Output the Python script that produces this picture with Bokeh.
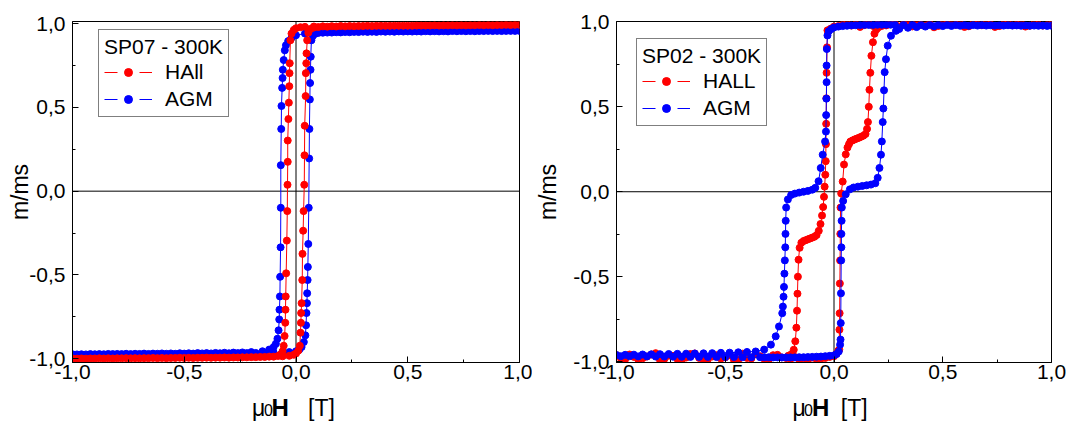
import numpy as np
from bokeh.plotting import figure
from bokeh.models import (Range1d, FixedTicker, CustomJSTickFormatter, Span, Label,
                          Legend, LegendItem, ColumnDataSource)
from bokeh.layouts import row, column
from bokeh.embed import file_html
from bokeh.resources import INLINE

FONT = "Liberation Sans"
RED = "#ff0000"
BLUE = "#0000ff"

# ---------------- tick values ----------------
major_ticks = [-1.0, -0.5, 0.0, 0.5, 1.0]
minor_ticks = [-0.75, -0.25, 0.25, 0.75]

# ---------------- SP07 - 300K : Hall (red) ----------------
hall07_dn_x = [1.00, 0.96, 0.92, 0.88, 0.84, 0.80, 0.76, 0.72, 0.68, 0.64, 0.60, 0.56, 0.52, 0.48, 0.44,
               0.40, 0.36, 0.32, 0.28, 0.24, 0.20, 0.16, 0.12, 0.08, 0.04, 0.02, 0.00, -0.010, -0.020,
               -0.025, -0.028, -0.029, -0.030, -0.032, -0.034, -0.037, -0.037, -0.038, -0.039, -0.041,
               -0.044, -0.046, -0.047, -0.048, -0.051, -0.055, -0.060, -0.070, -0.080,
               -0.12, -0.16, -0.20, -0.24, -0.28, -0.32, -0.36, -0.40, -0.44, -0.48, -0.52, -0.56, -0.60,
               -0.64, -0.68, -0.72, -0.76, -0.80, -0.84, -0.88, -0.92, -0.96, -1.00]
hall07_dn_y = [0.992, 0.991, 0.991, 0.990, 0.990, 0.990, 0.989, 0.989, 0.989, 0.988, 0.988, 0.988, 0.987,
               0.987, 0.987, 0.986, 0.986, 0.986, 0.985, 0.985, 0.985, 0.984, 0.983, 0.982, 0.980, 0.978,
               0.972, 0.962, 0.940,
               0.900, 0.763, 0.704, 0.626, 0.528, 0.430, 0.302, 0.175, 0.038, -0.119, -0.295, -0.490,
               -0.628, -0.707, -0.785, -0.864, -0.922, -0.955, -0.975, -0.983,
               -0.987, -0.989, -0.990, -0.991, -0.992, -0.992, -0.993, -0.993, -0.994, -0.994, -0.994,
               -0.995, -0.995, -0.995, -0.996, -0.996, -0.996, -0.997, -0.997, -0.997, -0.998, -0.998, -0.998]
hall07_up_x = [-0.98, -0.94, -0.90, -0.86, -0.82, -0.78, -0.74, -0.70, -0.66, -0.62, -0.58, -0.54, -0.50,
               -0.46, -0.42, -0.38, -0.34, -0.30, -0.26, -0.22, -0.18, -0.14, -0.10, -0.06,
               -0.03, -0.01, 0.00, 0.010,
               0.017, 0.020, 0.022, 0.023, 0.025, 0.028, 0.029, 0.032, 0.034, 0.037, 0.038, 0.039, 0.043,
               0.044, 0.046, 0.047, 0.050, 0.055, 0.065,
               0.08, 0.10, 0.14, 0.18, 0.22, 0.26, 0.30, 0.34, 0.38, 0.42, 0.46, 0.50, 0.54, 0.58, 0.62,
               0.66, 0.70, 0.74, 0.78, 0.82, 0.86, 0.90, 0.94, 0.98]
hall07_up_y = [-0.999, -0.999, -0.998, -0.998, -0.998, -0.997, -0.997, -0.997, -0.996, -0.996, -0.996,
               -0.995, -0.995, -0.995, -0.994, -0.994, -0.993, -0.993, -0.992, -0.991, -0.990, -0.989,
               -0.987, -0.985,
               -0.982, -0.976, -0.968, -0.952,
               -0.922, -0.844, -0.785, -0.727, -0.668, -0.530, -0.374, -0.236, -0.119, 0.038, 0.214, 0.390,
               0.567, 0.704, 0.763, 0.822, 0.900, 0.945, 0.968,
               0.976, 0.979, 0.981, 0.982, 0.983, 0.984, 0.985, 0.985, 0.986, 0.986, 0.987, 0.987, 0.988,
               0.988, 0.989, 0.989, 0.990, 0.990, 0.990, 0.991, 0.991, 0.991, 0.992, 0.992]

# ---------------- SP07 - 300K : AGM (blue) ----------------
agm07_dn_x = [1.00, 0.96, 0.92, 0.88, 0.84, 0.80, 0.76, 0.72, 0.68, 0.64, 0.60, 0.56, 0.52, 0.48, 0.44,
              0.40, 0.36, 0.32, 0.28, 0.24, 0.20, 0.16, 0.12, 0.08, 0.04,
              0.00, -0.020, -0.035, -0.045, -0.050,
              -0.055, -0.059, -0.060, -0.062, -0.065, -0.066, -0.068, -0.068, -0.069, -0.071, -0.072,
              -0.074, -0.075, -0.078, -0.083, -0.090, -0.10, -0.12, -0.15,
              -0.20, -0.24, -0.28, -0.32, -0.36, -0.40, -0.44, -0.48, -0.52, -0.56, -0.60, -0.64, -0.68,
              -0.72, -0.76, -0.80, -0.84, -0.88, -0.92, -0.96, -1.00]
agm07_dn_y = [0.956, 0.956, 0.955, 0.955, 0.955, 0.954, 0.954, 0.954, 0.953, 0.953, 0.953, 0.952, 0.952,
              0.952, 0.951, 0.951, 0.950, 0.950, 0.949, 0.948, 0.947, 0.946, 0.945, 0.943, 0.940,
              0.930, 0.915, 0.895, 0.870, 0.840,
              0.782, 0.724, 0.675, 0.616, 0.508, 0.371, 0.155, -0.099, -0.335, -0.511, -0.628, -0.707,
              -0.765, -0.830, -0.880, -0.910, -0.930, -0.945, -0.955,
              -0.960, -0.962, -0.963, -0.964, -0.965, -0.966, -0.966, -0.967, -0.967, -0.968, -0.968,
              -0.969, -0.969, -0.970, -0.970, -0.971, -0.971, -0.972, -0.972, -0.973, -0.973]
agm07_up_x = [-0.98, -0.94, -0.90, -0.86, -0.82, -0.78, -0.74, -0.70, -0.66, -0.62, -0.58, -0.54, -0.50,
              -0.46, -0.42, -0.38, -0.34, -0.30, -0.26, -0.22, -0.18, -0.14, -0.10, -0.06,
              -0.03, 0.00, 0.015, 0.025, 0.035, 0.042, 0.045,
              0.047, 0.049, 0.050, 0.052, 0.053, 0.055, 0.057, 0.059, 0.060, 0.062, 0.063, 0.065, 0.066,
              0.069, 0.075, 0.085,
              0.10, 0.14, 0.18, 0.22, 0.26, 0.30, 0.34, 0.38, 0.42, 0.46, 0.50, 0.54, 0.58, 0.62, 0.66,
              0.70, 0.74, 0.78, 0.82, 0.86, 0.90, 0.94, 0.98]
agm07_up_y = [-0.974, -0.974, -0.973, -0.973, -0.972, -0.972, -0.972, -0.971, -0.971, -0.970, -0.970,
              -0.970, -0.969, -0.969, -0.968, -0.968, -0.967, -0.967, -0.966, -0.966, -0.965, -0.964,
              -0.963, -0.962,
              -0.960, -0.955, -0.945, -0.930, -0.900, -0.860, -0.800,
              -0.727, -0.668, -0.609, -0.530, -0.452, -0.315, -0.099, 0.195, 0.371, 0.547, 0.645, 0.724,
              0.802, 0.900, 0.925, 0.938,
              0.944, 0.946, 0.948, 0.949, 0.950, 0.951, 0.951, 0.952, 0.952, 0.953, 0.953, 0.953, 0.954,
              0.954, 0.954, 0.955, 0.955, 0.955, 0.955, 0.956, 0.956, 0.956, 0.956]

# ---------------- SP02 - 300K : Hall (red) ----------------
hall02_dn_x = [1.00, 0.96, 0.92, 0.88, 0.84, 0.80, 0.76, 0.72, 0.68, 0.64, 0.60, 0.56, 0.52, 0.48, 0.44,
               0.40, 0.36, 0.32, 0.28, 0.24,
               0.20, 0.18, 0.16, 0.14, 0.12, 0.10, 0.08, 0.06, 0.04, 0.02, 0.00, -0.015,
               -0.030, -0.032, -0.034, -0.035, -0.036, -0.037, -0.038, -0.040, -0.043, -0.046, -0.050,
               -0.055, -0.062, -0.070, -0.080, -0.090, -0.100, -0.110, -0.120, -0.130, -0.140, -0.150,
               -0.158, -0.163, -0.166, -0.168, -0.170, -0.173, -0.178, -0.185, -0.195, -0.210,
               -0.24, -0.28, -0.32, -0.36, -0.40, -0.44, -0.48, -0.52, -0.56, -0.60, -0.64, -0.68, -0.72,
               -0.76, -0.80, -0.84, -0.88, -0.92, -0.96, -1.00]
hall02_dn_y = [0.985, 0.978, 0.990, 0.972, 0.984, 0.991, 0.975, 0.986, 0.980, 0.992, 0.970, 0.983, 0.988,
               0.976, 0.990, 0.982, 0.973, 0.987, 0.991, 0.979,
               0.984, 0.976, 0.989, 0.981, 0.970, 0.986, 0.978, 0.990, 0.983, 0.975, 0.972, 0.960,
               0.950, 0.850, 0.700, 0.550, 0.400, 0.280, 0.180, 0.100, 0.030, -0.030, -0.090, -0.140,
               -0.190, -0.230, -0.255, -0.265, -0.270, -0.275, -0.280, -0.285, -0.290, -0.300, -0.330,
               -0.400, -0.500, -0.600, -0.700, -0.800, -0.880, -0.930, -0.955, -0.965,
               -0.975, -0.962, -0.985, -0.955, -0.978, -0.990, -0.960, -0.982, -0.970, -0.988, -0.952,
               -0.976, -0.984, -0.965, -0.990, -0.958, -0.980, -0.972, -0.986, -0.962]
hall02_up_x = [-0.98, -0.94, -0.90, -0.86, -0.82, -0.78, -0.74, -0.70, -0.66, -0.62, -0.58, -0.54, -0.50,
               -0.46, -0.42, -0.38, -0.34, -0.30, -0.26, -0.22,
               -0.20, -0.18, -0.16, -0.14, -0.12, -0.10, -0.08, -0.06, -0.04, -0.02, 0.00, 0.010, 0.020,
               0.024, 0.025, 0.026, 0.027, 0.028, 0.029, 0.030, 0.033, 0.040, 0.046, 0.054, 0.062, 0.069,
               0.075, 0.085, 0.095, 0.105, 0.115, 0.125, 0.135, 0.145, 0.152, 0.156, 0.160, 0.163, 0.167,
               0.172, 0.179, 0.186, 0.195, 0.205,
               0.22, 0.26, 0.30, 0.34, 0.38, 0.42, 0.46, 0.50, 0.54, 0.58, 0.62, 0.66, 0.70, 0.74, 0.78,
               0.82, 0.86, 0.90, 0.94, 0.98]
hall02_up_y = [-0.980, -0.958, -0.988, -0.970, -0.950, -0.984, -0.966, -0.990, -0.955, -0.978, -0.986,
               -0.962, -0.975, -0.990, -0.953, -0.981, -0.968, -0.987, -0.960, -0.979,
               -0.985, -0.972, -0.988, -0.980, -0.990, -0.976, -0.986, -0.982, -0.978, -0.972, -0.968,
               -0.955, -0.935,
               -0.929, -0.812, -0.715, -0.540, -0.404, -0.248, -0.093, -0.010, 0.060, 0.160, 0.220,
               0.260, 0.280, 0.295, 0.302, 0.308, 0.313, 0.318, 0.324, 0.330, 0.340, 0.370, 0.410, 0.500,
               0.600, 0.700, 0.800, 0.880, 0.930, 0.955, 0.968,
               0.976, 0.988, 0.972, 0.985, 0.991, 0.978, 0.968, 0.987, 0.982, 0.990, 0.974, 0.984, 0.989,
               0.970, 0.986, 0.980, 0.992, 0.977, 0.985, 0.981]

# ---------------- SP02 - 300K : AGM (blue) ----------------
agm02_dn_x = [1.00, 0.96, 0.92, 0.88, 0.84, 0.80, 0.76, 0.72, 0.68, 0.64, 0.60, 0.56, 0.52, 0.48, 0.44,
              0.40, 0.36, 0.32, 0.28,
              0.26, 0.24, 0.22, 0.20, 0.18, 0.16, 0.14, 0.12, 0.10, 0.08, 0.06, 0.04, 0.02, 0.00,
              -0.012, -0.024,
              -0.030, -0.033, -0.034, -0.034, -0.035, -0.036, -0.037, -0.041, -0.052, -0.061, -0.071,
              -0.086, -0.100, -0.120, -0.140, -0.160, -0.180, -0.197, -0.212, -0.220, -0.222, -0.223,
              -0.224, -0.226, -0.228, -0.230, -0.232, -0.235, -0.238, -0.253, -0.268, -0.290, -0.321,
              -0.36, -0.40, -0.44, -0.48, -0.52, -0.56, -0.60, -0.64, -0.68, -0.72, -0.76, -0.80, -0.84,
              -0.88, -0.92, -0.96, -1.00]
agm02_dn_y = [0.977, 0.978, 0.978, 0.979, 0.979, 0.980, 0.980, 0.980, 0.981, 0.981, 0.981, 0.982, 0.982,
              0.982, 0.982, 0.982, 0.983, 0.983, 0.983,
              0.983, 0.983, 0.983, 0.983, 0.982, 0.982, 0.982, 0.981, 0.980, 0.979, 0.977, 0.975, 0.972,
              0.967,
              0.958, 0.945,
              0.920, 0.840, 0.743, 0.645, 0.548, 0.451, 0.354, 0.296, 0.218, 0.140, 0.062, 0.023, 0.012,
              0.005, 0.000, -0.005, -0.011, -0.019, -0.045, -0.093, -0.171, -0.248, -0.327, -0.404,
              -0.482, -0.560, -0.618, -0.676, -0.715, -0.793, -0.851, -0.900, -0.929,
              -0.940, -0.943, -0.945, -0.947, -0.948, -0.950, -0.951, -0.952, -0.953, -0.954, -0.955,
              -0.956, -0.957, -0.958, -0.959, -0.960, -0.961]
agm02_up_x = [-0.98, -0.94, -0.90, -0.86, -0.82, -0.78, -0.74, -0.70, -0.66, -0.62, -0.58, -0.54, -0.50,
              -0.46, -0.42, -0.38, -0.34,
              -0.32, -0.30, -0.28, -0.26, -0.24, -0.22, -0.20, -0.18, -0.16, -0.14, -0.12, -0.10, -0.08,
              -0.06, -0.04, -0.02, 0.00, 0.012, 0.022,
              0.028, 0.030, 0.031, 0.032, 0.033, 0.034, 0.034, 0.035, 0.036, 0.042, 0.054, 0.073, 0.090,
              0.110, 0.130, 0.150, 0.170, 0.190, 0.201, 0.209, 0.216, 0.220, 0.224, 0.227, 0.230, 0.233,
              0.239, 0.247, 0.262, 0.285,
              0.30, 0.34, 0.38, 0.42, 0.46, 0.50, 0.54, 0.58, 0.62, 0.66, 0.70, 0.74, 0.78, 0.82, 0.86,
              0.90, 0.94, 0.98]
agm02_up_y = [-0.968, -0.968, -0.969, -0.969, -0.970, -0.970, -0.971, -0.971, -0.972, -0.972, -0.972,
              -0.973, -0.973, -0.973, -0.974, -0.974, -0.974,
              -0.974, -0.974, -0.975, -0.975, -0.975, -0.975, -0.975, -0.975, -0.974, -0.974, -0.973,
              -0.972, -0.971, -0.970, -0.968, -0.966, -0.963, -0.955, -0.940,
              -0.900, -0.870, -0.773, -0.598, -0.404, -0.327, -0.248, -0.171, -0.093, -0.054, -0.015,
              0.014, 0.025, 0.030, 0.034, 0.038, 0.042, 0.050, 0.082, 0.140, 0.218, 0.296, 0.410, 0.490,
              0.597, 0.704, 0.780, 0.860, 0.918, 0.947,
              0.958, 0.965, 0.969, 0.972, 0.974, 0.975, 0.976, 0.977, 0.977, 0.978, 0.978, 0.978, 0.978,
              0.978, 0.977, 0.977, 0.977, 0.976]

for _x, _y in [(hall07_dn_x, hall07_dn_y), (hall07_up_x, hall07_up_y), (agm07_dn_x, agm07_dn_y),
               (agm07_up_x, agm07_up_y), (hall02_dn_x, hall02_dn_y), (hall02_up_x, hall02_up_y),
               (agm02_dn_x, agm02_dn_y), (agm02_up_x, agm02_up_y)]:
    assert len(_x) == len(_y), (len(_x), len(_y))

ROW_H = 405
STRIP_H = 29
STRIP_OVERLAP = ROW_H + STRIP_H - 423
LEFT_W = 532


def make_panel(width, height, mbl, mbr, mbt, mbb, yr, ylab_standoff):
    p = figure(width=width, height=height, x_range=Range1d(-1, 1), y_range=Range1d(*yr),
               output_backend="svg", toolbar_location=None,
               min_border_left=mbl, min_border_right=mbr, min_border_top=mbt, min_border_bottom=mbb)
    p.xgrid.visible = False
    p.ygrid.visible = False
    p.outline_line_color = "black"
    p.outline_line_width = 1
    p.background_fill_color = "white"
    p.border_fill_color = "white"
    for ax in (p.xaxis[0], p.yaxis[0]):
        ax.ticker = FixedTicker(ticks=major_ticks, minor_ticks=minor_ticks)
        ax.formatter = CustomJSTickFormatter(code="return tick.toFixed(1).replace('.', ',');")
        ax.major_tick_in = 6
        ax.major_tick_out = 0
        ax.minor_tick_in = 3
        ax.minor_tick_out = 0
        ax.axis_line_color = "black"
        ax.major_tick_line_color = "black"
        ax.minor_tick_line_color = "black"
        ax.major_label_text_font = FONT
        ax.major_label_text_font_size = "21px"
        ax.major_label_text_color = "black"
    xax = p.xaxis[0]
    xax.axis_label = None
    xax.axis_label_standoff = 0
    xax.major_label_standoff = 2
    yax = p.yaxis[0]
    yax.major_label_standoff = 7
    yax.axis_label = "m/ms"
    yax.axis_label_text_font = FONT
    yax.axis_label_text_font_size = "23px"
    yax.axis_label_text_font_style = "normal"
    yax.axis_label_text_color = "black"
    yax.axis_label_standoff = ylab_standoff
    p.add_layout(Span(location=0, dimension="height", line_color="black", line_width=1, level="underlay"))
    p.add_layout(Span(location=0, dimension="width", line_color="black", line_width=1, level="underlay"))
    return p


def add_branch(p, xs, ys, color):
    src = ColumnDataSource(dict(x=xs, y=ys))
    p.line("x", "y", source=src, line_color=color, line_width=1)
    return p.scatter("x", "y", source=src, size=7, marker="circle", fill_color=color, line_color=color)


def legend_line(p, color):
    # a line with no drawable point: it only supplies the dashed glyph of the legend
    src = ColumnDataSource(dict(x=[np.nan], y=[np.nan]))
    return p.line("x", "y", source=src, line_color=color, line_width=1, line_dash="13 22")


def add_legend(p, title, items, loc):
    leg = Legend(items=items, title=title, location=loc)
    leg.title_text_font = FONT
    leg.title_text_font_size = "21px"
    leg.title_text_font_style = "normal"
    leg.title_text_color = "black"
    leg.title_standoff = 1
    leg.label_text_font = FONT
    leg.label_text_font_size = "21px"
    leg.label_text_color = "black"
    leg.border_line_color = "black"
    leg.border_line_width = 1
    leg.background_fill_color = "white"
    leg.background_fill_alpha = 1
    leg.padding = 5
    leg.spacing = 3
    leg.margin = 0
    leg.glyph_width = 48
    leg.glyph_height = 20
    leg.label_height = 20
    leg.label_standoff = 13
    p.add_layout(leg)


# ---------------- left panel ----------------
p1 = make_panel(LEFT_W, ROW_H, 72, LEFT_W - 72 - 447, 21, ROW_H - 367, (-1.022, 1.012), -7)
b_dn = add_branch(p1, agm07_dn_x, agm07_dn_y, BLUE)
add_branch(p1, agm07_up_x, agm07_up_y, BLUE)
r_dn = add_branch(p1, hall07_dn_x, hall07_dn_y, RED)
add_branch(p1, hall07_up_x, hall07_up_y, RED)
add_legend(p1, "SP07 - 300K", [LegendItem(label="HAll", renderers=[legend_line(p1, RED), r_dn]),
                                LegendItem(label="AGM", renderers=[legend_line(p1, BLUE), b_dn])],
           (26, 245))

# ---------------- right panel ----------------
RIGHT_W = 1070 - LEFT_W
p2 = make_panel(RIGHT_W, ROW_H, 611 - LEFT_W, RIGHT_W - (611 - LEFT_W) - 440, 19, ROW_H - 362,
                (-1.005, 1.002), 9)
r2_dn = add_branch(p2, hall02_dn_x, hall02_dn_y, RED)
add_branch(p2, hall02_up_x, hall02_up_y, RED)
b2_dn = add_branch(p2, agm02_dn_x, agm02_dn_y, BLUE)
add_branch(p2, agm02_up_x, agm02_up_y, BLUE)
add_legend(p2, "SP02 - 300K", [LegendItem(label="HALL", renderers=[legend_line(p2, RED), r2_dn]),
                                LegendItem(label="AGM", renderers=[legend_line(p2, BLUE), b2_dn])],
           (20, 236))

# ---------------- x-axis titles (μ0H [T]) in a text strip under both panels ----------------
strip = figure(width=1070, height=STRIP_H, x_range=Range1d(0, 1070), y_range=Range1d(0, STRIP_H),
               output_backend="svg", toolbar_location=None, x_axis_type=None, y_axis_type=None,
               min_border_left=0, min_border_right=0, min_border_top=0, min_border_bottom=0,
               margin=(-STRIP_OVERLAP, 0, 0, 0))
strip.outline_line_color = None
strip.background_fill_alpha = 0
strip.border_fill_alpha = 0
strip.xgrid.visible = False
strip.ygrid.visible = False

# (text, font size, style, vertical centre in strip units from its bottom)
xlabel_parts = [("μ", "23px", "normal", 15.8), ("0", "16px", "normal", 13.3),
                ("H", "24px", "bold", 16.1), ("[T]", "23px", "normal", 15.8)]
xlabel_left_pos = [251.6, 263.6, 271.0, 307.6]
xlabel_right_pos = [792.0, 803.6, 811.5, 840.3]
for pos in (xlabel_left_pos, xlabel_right_pos):
    for (txt, size, style, yc), xpos in zip(xlabel_parts, pos):
        strip.add_layout(Label(x=xpos, y=yc, text=txt, text_font=FONT, text_font_size=size,
                               text_font_style=style, text_color="black", text_align="left",
                               text_baseline="middle"))

layout = column(row(p1, p2), strip)
open("out.html", "w").write(file_html(layout, INLINE))
